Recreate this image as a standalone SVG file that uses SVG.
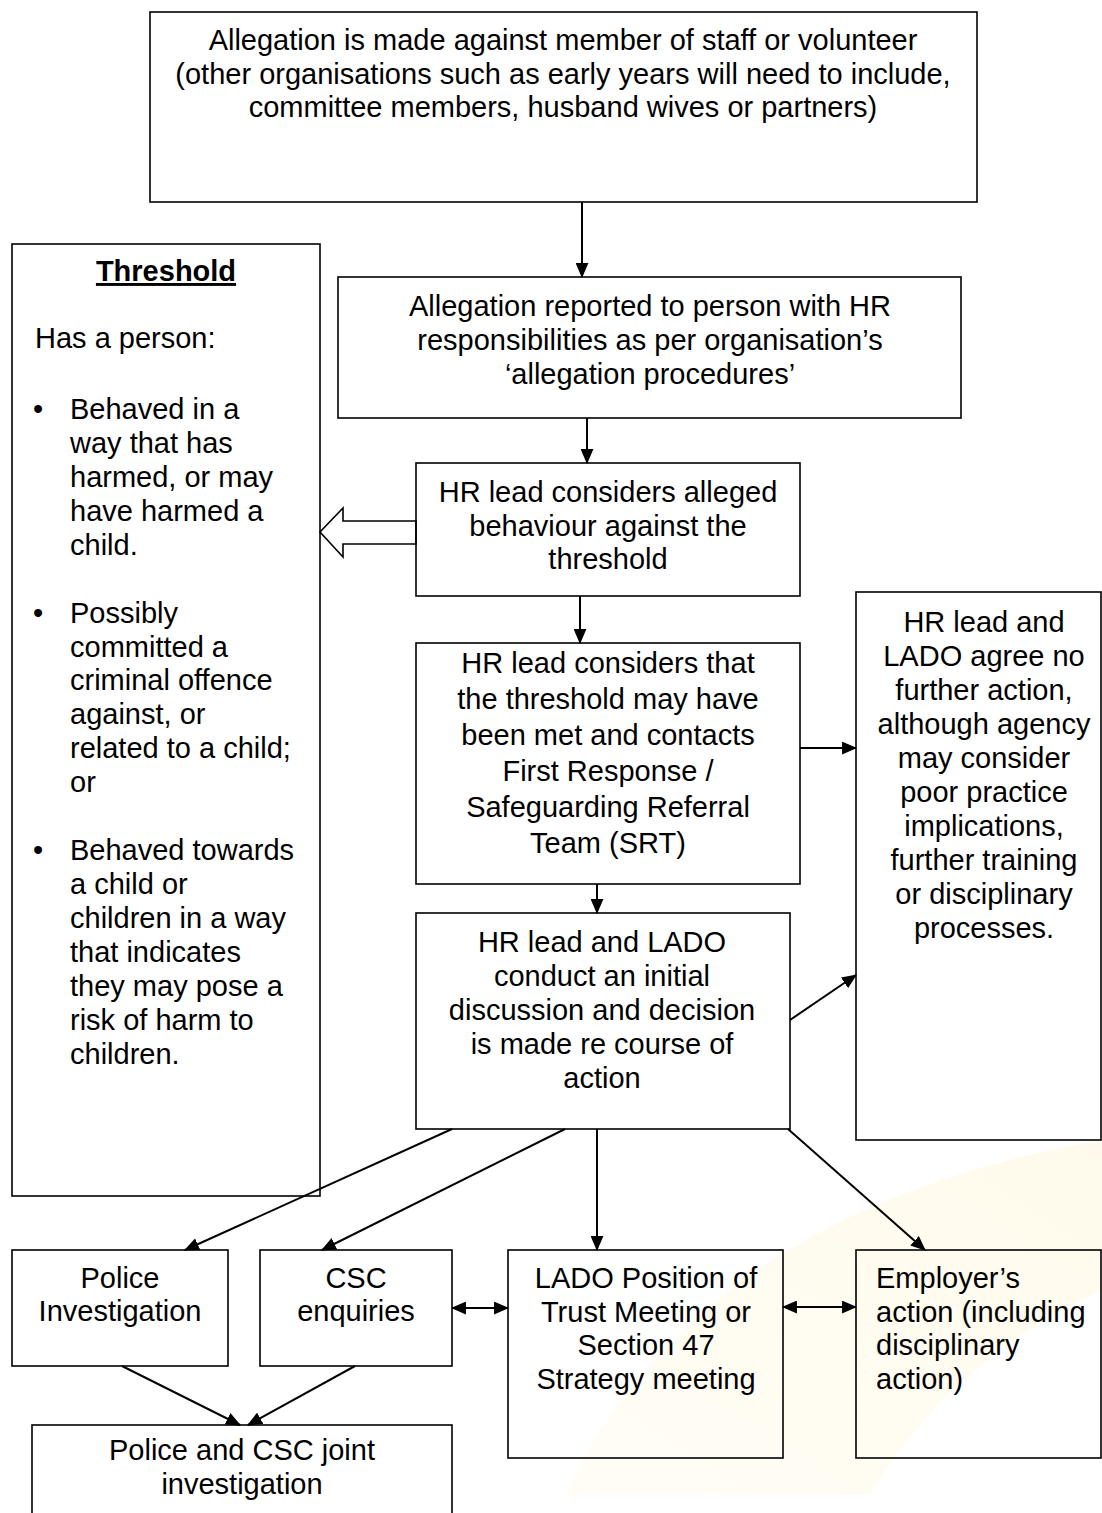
<svg xmlns="http://www.w3.org/2000/svg" width="1102" height="1513" viewBox="0 0 1102 1513">
<style>
text{font-family:"Liberation Sans",Arial,sans-serif;font-size:29px;fill:#000}
.c{text-anchor:middle}
.box{fill:none;stroke:#000;stroke-width:1.6}
.ln{stroke:#000;stroke-width:2;fill:none}
.b{font-weight:bold;text-decoration:underline}
</style>
<defs>
<marker id="ah" viewBox="0 0 14 12" refX="13" refY="6" markerWidth="15" markerHeight="13" markerUnits="userSpaceOnUse" orient="auto-start-reverse">
<path d="M0,0 L14,6 L0,12 z" fill="#000"/>
</marker>
<linearGradient id="wm" x1="0" y1="1" x2="1" y2="0">
<stop offset="0" stop-color="#fffdf6"/>
<stop offset="1" stop-color="#fffaeb"/>
</linearGradient>
</defs>
<rect width="1102" height="1513" fill="#fff"/>
<path d="M565,1495 Q700,1210 1102,1140 L1102,1290 Q950,1360 870,1495 Z" fill="url(#wm)"/>

<g id="connectors">
<line class="ln" x1="582" y1="202" x2="582" y2="277" marker-end="url(#ah)"/>
<line class="ln" x1="587" y1="418" x2="587" y2="463" marker-end="url(#ah)"/>
<polygon points="416,521 343,521 343,508 320,532 343,557 343,544 416,544" fill="#fff" stroke="#000" stroke-width="1.6"/>
<line class="ln" x1="580" y1="596" x2="580" y2="643" marker-end="url(#ah)"/>
<line class="ln" x1="800" y1="748" x2="856" y2="748" marker-end="url(#ah)"/>
<line class="ln" x1="597" y1="884" x2="597" y2="913" marker-end="url(#ah)"/>
<line class="ln" x1="790" y1="1020" x2="856" y2="975" marker-end="url(#ah)"/>
<line class="ln" x1="452" y1="1129" x2="185" y2="1250" marker-end="url(#ah)"/>
<line class="ln" x1="565" y1="1129" x2="322" y2="1250" marker-end="url(#ah)"/>
<line class="ln" x1="597" y1="1129" x2="597" y2="1250" marker-end="url(#ah)"/>
<line class="ln" x1="788" y1="1129" x2="925" y2="1250" marker-end="url(#ah)"/>
<line class="ln" x1="452" y1="1308" x2="508" y2="1308" marker-start="url(#ah)" marker-end="url(#ah)"/>
<line class="ln" x1="783" y1="1307" x2="856" y2="1307" marker-start="url(#ah)" marker-end="url(#ah)"/>
<line class="ln" x1="122" y1="1366" x2="240" y2="1425" marker-end="url(#ah)"/>
<line class="ln" x1="355" y1="1366" x2="248" y2="1425" marker-end="url(#ah)"/>
</g>

<g id="n-allegation">
<rect class="box" x="150" y="12" width="827" height="190"/>
<text class="c" x="563" y="50">Allegation is made against member of staff or volunteer</text>
<text class="c" x="563" y="84">(other organisations such as early years will need to include,</text>
<text class="c" x="563" y="117">committee members, husband wives or partners)</text>
</g>

<g id="n-threshold">
<rect class="box" x="12" y="244" width="308" height="952"/>
<text class="c b" x="166" y="281">Threshold</text>
<text x="35" y="348">Has a person:</text>
<text x="33" y="419">•</text>
<text x="70" y="419">Behaved in a</text>
<text x="70" y="453">way that has</text>
<text x="70" y="487">harmed, or may</text>
<text x="70" y="521">have harmed a</text>
<text x="70" y="555">child.</text>
<text x="33" y="623">•</text>
<text x="70" y="623">Possibly</text>
<text x="70" y="657">committed a</text>
<text x="70" y="690">criminal offence</text>
<text x="70" y="724">against, or</text>
<text x="70" y="758">related to a child;</text>
<text x="70" y="792">or</text>
<text x="33" y="860">•</text>
<text x="70" y="860">Behaved towards</text>
<text x="70" y="894">a child or</text>
<text x="70" y="928">children in a way</text>
<text x="70" y="962">that indicates</text>
<text x="70" y="996">they may pose a</text>
<text x="70" y="1030">risk of harm to</text>
<text x="70" y="1064">children.</text>
</g>

<g id="n-reported">
<rect class="box" x="338" y="277" width="623" height="141"/>
<text class="c" x="650" y="316">Allegation reported to person with HR</text>
<text class="c" x="650" y="350">responsibilities as per organisation’s</text>
<text class="c" x="650" y="384">‘allegation procedures’</text>
</g>

<g id="n-considers">
<rect class="box" x="416" y="463" width="384" height="133"/>
<text class="c" x="608" y="502">HR lead considers alleged</text>
<text class="c" x="608" y="536">behaviour against the</text>
<text class="c" x="608" y="569">threshold</text>
</g>

<g id="n-contacts">
<rect class="box" x="416" y="643" width="384" height="241"/>
<text class="c" x="608" y="673">HR lead considers that</text>
<text class="c" x="608" y="709">the threshold may have</text>
<text class="c" x="608" y="745">been met and contacts</text>
<text class="c" x="608" y="781">First Response /</text>
<text class="c" x="608" y="817">Safeguarding Referral</text>
<text class="c" x="608" y="853">Team (SRT)</text>
</g>

<g id="n-discussion">
<rect class="box" x="416" y="913" width="374" height="216"/>
<text class="c" x="602" y="952">HR lead and LADO</text>
<text class="c" x="602" y="986">conduct an initial</text>
<text class="c" x="602" y="1020">discussion and decision</text>
<text class="c" x="602" y="1054">is made re course of</text>
<text class="c" x="602" y="1088">action</text>
</g>

<g id="n-nfa">
<rect class="box" x="856" y="592" width="245" height="548"/>
<text class="c" x="984" y="632">HR lead and</text>
<text class="c" x="984" y="666">LADO agree no</text>
<text class="c" x="984" y="700">further action,</text>
<text class="c" x="984" y="734">although agency</text>
<text class="c" x="984" y="768">may consider</text>
<text class="c" x="984" y="802">poor practice</text>
<text class="c" x="984" y="836">implications,</text>
<text class="c" x="984" y="870">further training</text>
<text class="c" x="984" y="904">or disciplinary</text>
<text class="c" x="984" y="938">processes.</text>
</g>

<g id="n-police">
<rect class="box" x="12" y="1250" width="216" height="116"/>
<text class="c" x="120" y="1288">Police</text>
<text class="c" x="120" y="1321">Investigation</text>
</g>

<g id="n-csc">
<rect class="box" x="260" y="1250" width="192" height="116"/>
<text class="c" x="356" y="1288">CSC</text>
<text class="c" x="356" y="1321">enquiries</text>
</g>

<g id="n-lado">
<rect class="box" x="508" y="1250" width="275" height="208"/>
<text class="c" x="646" y="1288">LADO Position of</text>
<text class="c" x="646" y="1322">Trust Meeting or</text>
<text class="c" x="646" y="1355">Section 47</text>
<text class="c" x="646" y="1389">Strategy meeting</text>
</g>

<g id="n-employer">
<rect class="box" x="856" y="1250" width="245" height="208"/>
<text x="876" y="1288">Employer’s</text>
<text x="876" y="1322">action (including</text>
<text x="876" y="1355">disciplinary</text>
<text x="876" y="1389">action)</text>
</g>

<g id="n-joint">
<rect class="box" x="32" y="1425" width="420" height="100"/>
<text class="c" x="242" y="1460">Police and CSC joint</text>
<text class="c" x="242" y="1494">investigation</text>
</g>
</svg>
